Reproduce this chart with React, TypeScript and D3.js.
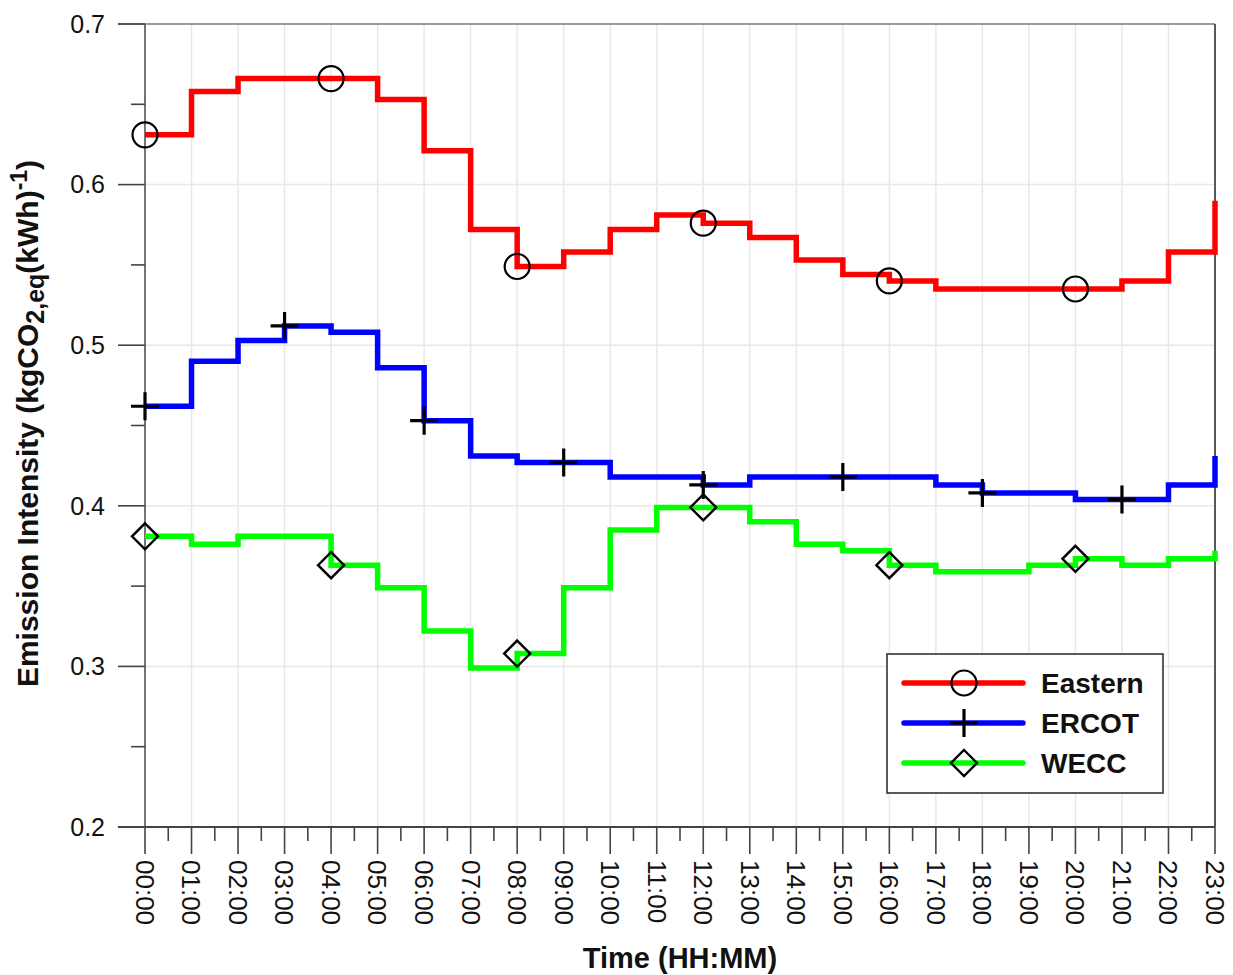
import React from "react";
import * as d3 from "d3";

// Hourly emission intensity by interconnection (kgCO2,eq per kWh)
const hourLabels = [
  "00:00", "01:00", "02:00", "03:00", "04:00", "05:00", "06:00", "07:00",
  "08:00", "09:00", "10:00", "11:00", "12:00", "13:00", "14:00", "15:00",
  "16:00", "17:00", "18:00", "19:00", "20:00", "21:00", "22:00", "23:00",
];

const eastern = [
  0.631, 0.658, 0.666, 0.666, 0.666, 0.653, 0.621, 0.572, 0.549, 0.558, 0.572, 0.581,
  0.576, 0.567, 0.553, 0.544, 0.540, 0.535, 0.535, 0.535, 0.535, 0.540, 0.558, 0.590,
];
const ercot = [
  0.462, 0.490, 0.503, 0.512, 0.508, 0.486, 0.453, 0.431, 0.427, 0.427, 0.418, 0.418,
  0.413, 0.418, 0.418, 0.418, 0.418, 0.413, 0.408, 0.408, 0.404, 0.404, 0.413, 0.431,
];
const wecc = [
  0.381, 0.376, 0.381, 0.381, 0.363, 0.349, 0.322, 0.299, 0.308, 0.349, 0.385, 0.399,
  0.399, 0.390, 0.376, 0.372, 0.363, 0.359, 0.359, 0.363, 0.367, 0.363, 0.367, 0.372,
];

const seriesNames = ["Eastern", "ERCOT", "WECC"];
const easternMarkerHours = [0, 4, 8, 12, 16, 20];
const ercotMarkerHours = [0, 3, 6, 9, 12, 15, 18, 21];
const weccMarkerHours = [0, 4, 8, 12, 16, 20];

const yTicks = [0.2, 0.3, 0.4, 0.5, 0.6, 0.7];
const yMinorTicks = [0.25, 0.35, 0.45, 0.55, 0.65];

const W = 1233;
const H = 975;
const left = 145;
const right = 1215;
const top = 24;
const bottom = 827;

const FONT = "'Liberation Sans', Arial, Helvetica, sans-serif";

type MarkerKind = "circle" | "plus" | "diamond";

function Marker({ kind, x, y }: { kind: MarkerKind; x: number; y: number }) {
  if (kind === "circle") {
    return <circle cx={x} cy={y} r={12.5} fill="none" stroke="#000" strokeWidth={2.2} />;
  }
  if (kind === "plus") {
    const s = 14;
    return (
      <path
        d={`M${x - s},${y}H${x + s}M${x},${y - s}V${y + s}`}
        stroke="#000"
        strokeWidth={3.2}
        fill="none"
      />
    );
  }
  const s = 13;
  return (
    <path
      d={`M${x},${y - s}L${x + s},${y}L${x},${y + s}L${x - s},${y}Z`}
      fill="none"
      stroke="#000"
      strokeWidth={2.4}
    />
  );
}

export default function App() {
  const x = d3.scaleLinear().domain([0, hourLabels.length - 1]).range([left, right]);
  const y = d3.scaleLinear().domain([0.2, 0.7]).range([bottom, top]);

  const line = d3
    .line<number>()
    .x((_, i) => x(i))
    .y((v) => y(v))
    .curve(d3.curveStepAfter);

  const series = [
    { name: seriesNames[0], values: eastern, color: "#ff0000", marker: "circle" as MarkerKind, at: easternMarkerHours },
    { name: seriesNames[1], values: ercot, color: "#0000ff", marker: "plus" as MarkerKind, at: ercotMarkerHours },
    { name: seriesNames[2], values: wecc, color: "#00ff00", marker: "diamond" as MarkerKind, at: weccMarkerHours },
  ];

  const hours = hourLabels.map((_, i) => i);
  const halfHours = hours.slice(0, -1).map((i) => i + 0.5);

  // legend geometry
  const lg = { x0: 887, y0: 654, x1: 1163, y1: 793 };
  const legendRows = [683, 723, 763];

  return (
    <svg
      width={W}
      height={H}
      style={{ position: "absolute", left: 0, top: 0, background: "#fff" }}
      fontFamily={FONT}
    >
      <rect x={0} y={0} width={W} height={H} fill="#fff" />

      {/* grid */}
      <g stroke="#e8e8e8" strokeWidth={1.5}>
        {hours.slice(1).map((i) => (
          <line key={`gx${i}`} x1={x(i)} x2={x(i)} y1={top} y2={bottom} />
        ))}
        {yTicks.slice(1, -1).map((t) => (
          <line key={`gy${t}`} x1={left} x2={right} y1={y(t)} y2={y(t)} />
        ))}
      </g>

      {/* frame */}
      <line x1={118} x2={right} y1={top} y2={top} stroke="#7a7a7a" strokeWidth={1.6} />
      <line x1={right} x2={right} y1={top} y2={bottom} stroke="#333" strokeWidth={1.6} />
      <line x1={left} x2={left} y1={top} y2={bottom} stroke="#666" strokeWidth={1.8} />
      <line x1={118} x2={right} y1={bottom} y2={bottom} stroke="#444" strokeWidth={1.8} />

      {/* y ticks */}
      <g stroke="#444" strokeWidth={1.6}>
        {yTicks.map((t) => (
          <line key={`yt${t}`} x1={118} x2={left} y1={y(t)} y2={y(t)} />
        ))}
        {yMinorTicks.map((t) => (
          <line key={`ym${t}`} x1={131} x2={left} y1={y(t)} y2={y(t)} />
        ))}
      </g>
      <g fontSize={25} fill="#111" textAnchor="end">
        {yTicks.map((t) => (
          <text key={`yl${t}`} x={105} y={y(t)} dy="0.35em">
            {t.toFixed(1)}
          </text>
        ))}
      </g>

      {/* x ticks */}
      <g stroke="#444" strokeWidth={1.6}>
        {hours.map((i) => (
          <line key={`xt${i}`} x1={x(i)} x2={x(i)} y1={bottom} y2={854} />
        ))}
        {halfHours.map((h) => (
          <line key={`xm${h}`} x1={x(h)} x2={x(h)} y1={bottom} y2={841} />
        ))}
      </g>
      <g fontSize={26} fill="#111">
        {hourLabels.map((lab, i) => (
          <text
            key={`xl${i}`}
            transform={`translate(${x(i)},860) rotate(90)`}
            dy="0.35em"
            textAnchor="start"
          >
            {lab}
          </text>
        ))}
      </g>

      {/* axis titles */}
      <text x={(left + right) / 2} y={968} textAnchor="middle" fontSize={29} fontWeight="bold" fill="#111">
        Time (HH:MM)
      </text>
      <text
        transform={`translate(38,${(top + bottom) / 2 - 2}) rotate(-90)`}
        textAnchor="middle"
        fontSize={30}
        fontWeight="bold"
        fill="#111"
      >
        Emission Intensity (kgCO
        <tspan fontSize={25} dy={6}>2,eq</tspan>
        <tspan dy={-6}>(kWh)</tspan>
        <tspan fontSize={23} dy={-11}>-1</tspan>
        <tspan dy={11}>)</tspan>
      </text>

      {/* series lines */}
      {series.map((s) => (
        <path
          key={s.name}
          d={line(s.values) || ""}
          fill="none"
          stroke={s.color}
          strokeWidth={5.5}
          strokeLinejoin="miter"
        />
      ))}

      {/* series markers */}
      {series.map((s) =>
        s.at.map((i) => <Marker key={`${s.name}${i}`} kind={s.marker} x={x(i)} y={y(s.values[i])} />)
      )}

      {/* legend */}
      <rect
        x={lg.x0}
        y={lg.y0}
        width={lg.x1 - lg.x0}
        height={lg.y1 - lg.y0}
        fill="#fff"
        stroke="#333"
        strokeWidth={1.6}
      />
      {series.map((s, k) => (
        <g key={`lg${s.name}`}>
          <line
            x1={904}
            x2={1023}
            y1={legendRows[k]}
            y2={legendRows[k]}
            stroke={s.color}
            strokeWidth={5.5}
            strokeLinecap="round"
          />
          <Marker kind={s.marker} x={964} y={legendRows[k]} />
          <text x={1041} y={legendRows[k]} dy="0.36em" fontSize={28} fontWeight="bold" fill="#111">
            {s.name}
          </text>
        </g>
      ))}
    </svg>
  );
}
